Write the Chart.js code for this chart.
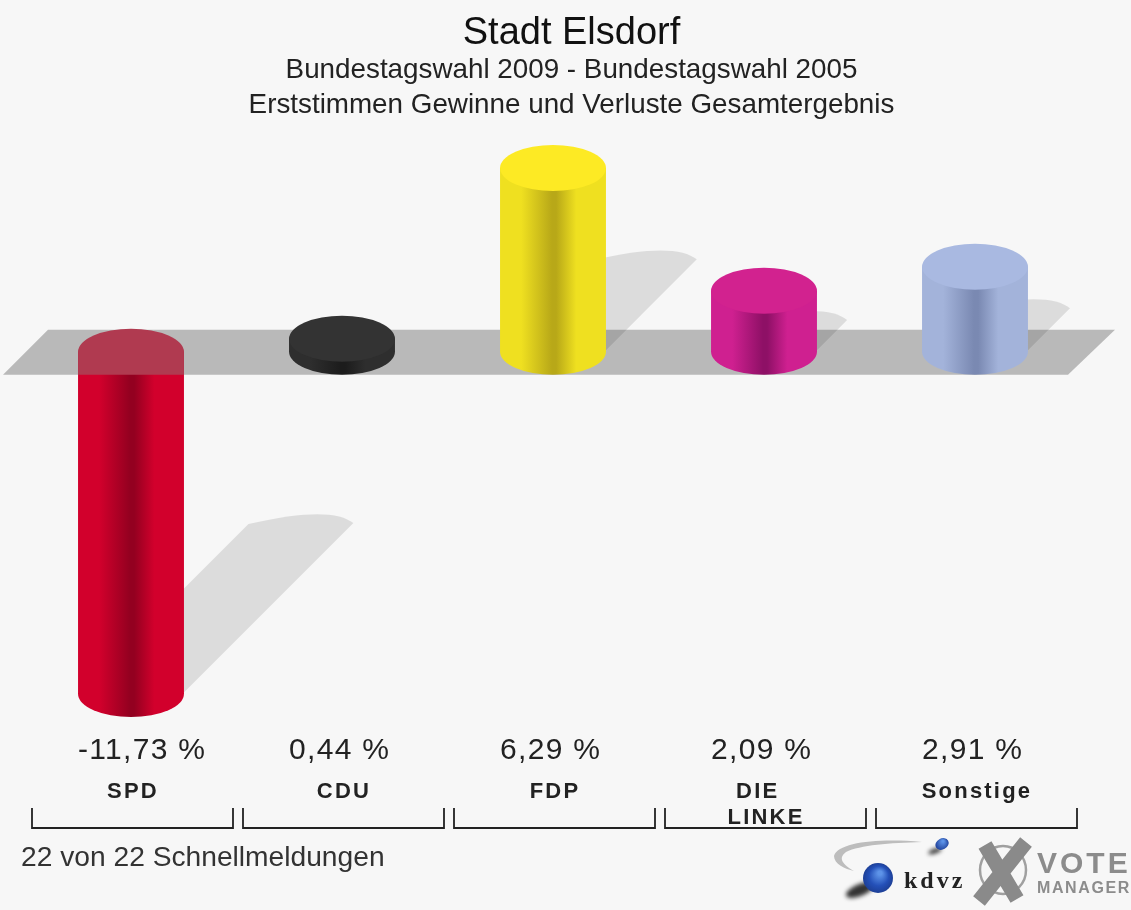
<!DOCTYPE html>
<html>
<head>
<meta charset="utf-8">
<style>html,body{margin:0;padding:0;background:#f7f7f7}canvas{display:block;filter:blur(0.6px)}</style>
<script src="https://cdn.jsdelivr.net/npm/chart.js@4"></script>
</head>
<body>
<canvas id="c" width="1131" height="910"></canvas>
<script>
const categories = ['SPD', 'CDU', 'FDP', ['DIE  ', 'LINKE'], 'Sonstige'];
const changes = [-11.73, 0.44, 6.29, 2.09, 2.91];
const bodyColors = ['#d2002c', '#2e2e2e', '#efe020', '#cf2090', '#a3b3da'];
const darkColors = ['#930020', '#1c1c1c', '#b8a818', '#8e1066', '#7a89b2'];
const capColors = ['#b03a50', '#333333', '#fdea24', '#d2228f', '#a9b9e1'];
const titleText = 'Stadt Elsdorf';
const subtitleLines = ['Bundestagswahl 2009 - Bundestagswahl 2005', 'Erststimmen Gewinne und Verluste Gesamtergebnis'];
const footerText = '22 von 22 Schnellmeldungen';
const FONT = '"Liberation Sans", Arial, sans-serif';
const TEXT = '#222222';

function bodyGradient(ctx, x, w, i) {
  const g = ctx.createLinearGradient(x - w / 2, 0, x + w / 2, 0);
  g.addColorStop(0, bodyColors[i]);
  g.addColorStop(0.2, bodyColors[i]);
  g.addColorStop(0.49, darkColors[i]);
  g.addColorStop(0.53, darkColors[i]);
  g.addColorStop(0.72, bodyColors[i]);
  g.addColorStop(1, bodyColors[i]);
  return g;
}

const RY = 23;

const cylinderPlugin = {
  id: 'cylinders',
  afterLayout(chart) {
    // the headings are centred on the page rather than on the plot
    chart.boxes.forEach(b => {
      if (!b.axis) { b.left += 18.5; b.right += 18.5; }
    });
  },
  beforeDraw(chart) {
    chart.ctx.letterSpacing = '0px';
  },
  beforeDatasetsDraw(chart) {
    const ctx = chart.ctx, y0 = chart.scales.y.getPixelForValue(0);
    ctx.save();
    // floor band
    ctx.fillStyle = '#b9b9b9';
    ctx.beginPath();
    ctx.moveTo(3, y0 + RY);
    ctx.lineTo(48, y0 - RY + 1);
    ctx.lineTo(1115, y0 - RY + 1);
    ctx.lineTo(1068, y0 + RY);
    ctx.closePath();
    ctx.fill();
    // cast shadows
    ctx.fillStyle = 'rgba(0,0,0,0.105)';
    chart.getDatasetMeta(0).data.forEach(bar => {
      const low = Math.max(bar.y, bar.base);
      const h = Math.abs(bar.y - bar.base);
      if (h < 20) return;
      const d = h * 0.495;
      const xr = bar.x + bar.width / 2;
      const yb = low - 1.5;
      const W = 105;
      const tx = xr + d, ty = yb - d;
      ctx.beginPath();
      ctx.moveTo(xr, yb);
      ctx.lineTo(tx, ty);
      ctx.bezierCurveTo(tx - 14, ty - 11, tx - 45, ty - 13, tx - W, ty + 1);
      ctx.lineTo(xr - W, yb + 1);
      ctx.closePath();
      ctx.fill();
    });
    ctx.restore();
  },
  afterDatasetsDraw(chart) {
    const ctx = chart.ctx, y0 = chart.scales.y.getPixelForValue(0);
    ctx.save();
    chart.getDatasetMeta(0).data.forEach((bar, i) => {
      const rx = bar.width / 2;
      const lowY = Math.max(bar.y, bar.base);
      // rounded lower end (overlaps the bar by a pixel to hide the seam)
      ctx.fillStyle = bodyGradient(ctx, bar.x, bar.width, i);
      ctx.beginPath();
      ctx.moveTo(bar.x - rx, lowY - 1);
      ctx.lineTo(bar.x + rx, lowY - 1);
      ctx.ellipse(bar.x, lowY, rx, RY, 0, 0, Math.PI);
      ctx.closePath();
      ctx.fill();
      // upper face
      const topY = Math.min(bar.y, bar.base);
      ctx.fillStyle = capColors[i];
      ctx.beginPath();
      if (changes[i] < 0) {
        ctx.ellipse(bar.x, topY, rx, RY, 0, Math.PI, 2 * Math.PI);
        ctx.lineTo(bar.x + rx, y0 + RY);
        ctx.lineTo(bar.x - rx, y0 + RY);
        ctx.closePath();
      } else {
        ctx.ellipse(bar.x, topY, rx, RY, 0, 0, 2 * Math.PI);
      }
      ctx.fill();
      // value label, left aligned with the bar
      ctx.fillStyle = TEXT;
      ctx.font = '30px ' + FONT;
      ctx.letterSpacing = '1.3px';
      ctx.textAlign = 'left';
      ctx.textBaseline = 'middle';
      ctx.fillText(changes[i].toFixed(2).replace('.', ',') + ' %', bar.x - rx, 751);
    });
    // brackets under every category
    const xs = chart.scales.x;
    ctx.strokeStyle = '#222222';
    ctx.lineWidth = 1.8;
    categories.forEach((c, i) => {
      const cx = xs.getPixelForValue(i) + 1.5;
      ctx.beginPath();
      ctx.moveTo(cx - 100.5, 808);
      ctx.lineTo(cx - 100.5, 828);
      ctx.lineTo(cx + 100.5, 828);
      ctx.lineTo(cx + 100.5, 808);
      ctx.stroke();
    });
    // footer
    ctx.fillStyle = '#333333';
    ctx.font = '28.2px ' + FONT;
    ctx.letterSpacing = '0px';
    ctx.textAlign = 'left';
    ctx.fillText(footerText, 21, 858);
    drawLogos(ctx);
    ctx.restore();
    // the category ticks are drawn after this hook
    ctx.letterSpacing = '2.2px';
  }
};

function drawLogos(ctx) {
  ctx.save();
  // swoosh
  ctx.fillStyle = '#bdbdbd';
  ctx.beginPath();
  ctx.moveTo(922, 842);
  ctx.bezierCurveTo(880, 838, 838, 842, 834, 856);
  ctx.bezierCurveTo(834, 864, 845, 869, 854, 871);
  ctx.bezierCurveTo(842, 864, 838, 858, 846, 852);
  ctx.bezierCurveTo(860, 845, 890, 843, 922, 842);
  ctx.fill();
  // shadows
  ctx.filter = 'blur(2px)';
  ctx.fillStyle = '#333';
  ctx.beginPath();
  ctx.ellipse(860, 890, 15, 6, -0.4, 0, 2 * Math.PI);
  ctx.fill();
  ctx.beginPath();
  ctx.ellipse(935, 851, 7, 2.5, -0.35, 0, 2 * Math.PI);
  ctx.fill();
  ctx.filter = 'none';
  // spheres
  let g = ctx.createRadialGradient(880, 873, 2, 878, 878, 15);
  g.addColorStop(0, '#5d93e8');
  g.addColorStop(0.6, '#2450b8');
  g.addColorStop(1, '#1d3f96');
  ctx.fillStyle = g;
  ctx.beginPath();
  ctx.arc(878, 878, 15, 0, 2 * Math.PI);
  ctx.fill();
  g = ctx.createRadialGradient(943, 841, 1, 942, 844, 7);
  g.addColorStop(0, '#5d93e8');
  g.addColorStop(1, '#1e3f98');
  ctx.fillStyle = g;
  ctx.beginPath();
  ctx.ellipse(942, 844, 7, 5.5, -0.5, 0, 2 * Math.PI);
  ctx.fill();
  // kdvz wordmark
  ctx.letterSpacing = '3px';
  ctx.fillStyle = '#222';
  ctx.font = 'bold 24px "Liberation Serif", serif';
  ctx.textAlign = 'left';
  ctx.textBaseline = 'alphabetic';
  ctx.fillText('kdvz', 904, 888);
  // crossed ballot mark
  ctx.strokeStyle = '#a0a0a0';
  ctx.lineWidth = 2.5;
  ctx.beginPath();
  ctx.ellipse(1003, 870, 23, 24, 0, 0, 2 * Math.PI);
  ctx.stroke();
  ctx.strokeStyle = '#8a8a8a';
  ctx.lineWidth = 15;
  ctx.beginPath();
  ctx.moveTo(985, 845);
  ctx.lineTo(1017, 899);
  ctx.moveTo(1026, 842);
  ctx.lineTo(979, 901);
  ctx.stroke();
  // vote manager
  ctx.fillStyle = '#8c8c8c';
  ctx.letterSpacing = '3px';
  ctx.font = 'bold 30px ' + FONT;
  ctx.fillText('VOTE', 1037, 873);
  ctx.letterSpacing = '1.6px';
  ctx.font = 'bold 16px ' + FONT;
  ctx.fillText('MANAGER', 1037, 893);
  ctx.restore();
}

new Chart(document.getElementById('c'), {
  type: 'bar',
  data: {
    labels: categories,
    datasets: [{
      data: changes,
      borderWidth: 0,
      barPercentage: 1,
      categoryPercentage: 0.502,
      backgroundColor(c) {
        const i = c.dataIndex;
        const px = c.chart.scales.x && i !== undefined ? c.chart.scales.x.getPixelForValue(i) : NaN;
        if (!Number.isFinite(px)) return bodyColors[i || 0];
        return bodyGradient(c.chart.ctx, px, 106, i);
      }
    }]
  },
  options: {
    responsive: false,
    animation: false,
    events: [],
    layout: { padding: { left: 25.5, right: 50.5, top: 0, bottom: 40.3 } },
    plugins: {
      legend: { display: false },
      tooltip: { enabled: false },
      title: {
        display: true,
        text: titleText,
        color: '#111111',
        font: { family: FONT, size: 38, weight: 'normal', lineHeight: 1.011 },
        padding: { top: 14, bottom: 0 }
      },
      subtitle: {
        display: true,
        text: subtitleLines,
        color: TEXT,
        font: { family: FONT, size: 27.8, weight: 'normal', lineHeight: 1.259 },
        padding: { top: 0, bottom: 6.9 }
      }
    },
    scales: {
      x: {
        grid: { display: false },
        border: { display: false },
        ticks: {
          color: '#222222',
          font: { family: FONT, size: 22, weight: 'bold', lineHeight: 1.18 },
          padding: 39,
          labelOffset: 2,
          z: 1,
          maxRotation: 0,
          autoSkip: false
        }
      },
      y: { display: false, min: -13.024, max: 7.619 }
    }
  },
  plugins: [cylinderPlugin]
});
</script>
</body>
</html>
